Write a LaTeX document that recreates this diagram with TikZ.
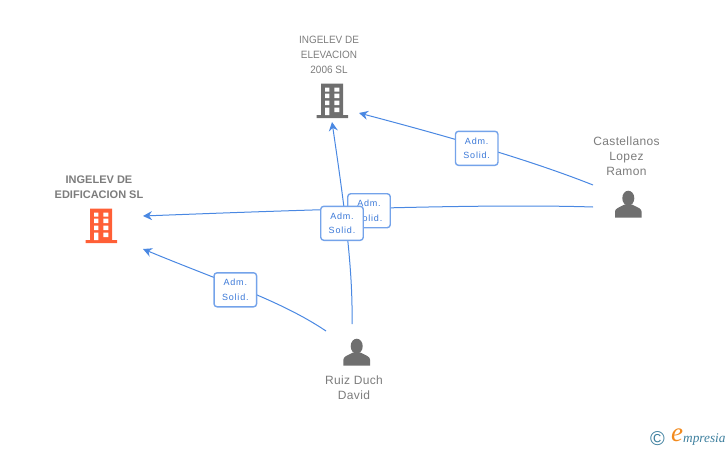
\documentclass[tikz,border=0pt]{standalone}
\usepackage{fontspec}
\setmainfont{Liberation Sans}
\newfontfamily\serifit{Liberation Serif}
\usetikzlibrary{arrows.meta}
\definecolor{linkblue}{HTML}{4A88E2}
\definecolor{boxblue}{HTML}{74A3EA}
\definecolor{boxtext}{HTML}{3A78D8}
\definecolor{icongrey}{HTML}{6F6F6F}
\definecolor{labelgrey}{HTML}{7C7C7C}
\definecolor{iconorange}{HTML}{FF5F36}
\definecolor{logoteal}{HTML}{3D7F9E}
\definecolor{logoorange}{HTML}{F28A1E}
\tikzset{
  x=1pt,y=-1pt,
  link/.style={draw=linkblue,line width=1pt,-{Stealth[length=9pt,width=9pt,inset=3pt]}},
  badge/.style={draw=boxblue,line width=1.4pt,fill=white,rounded corners=3pt,inner sep=0pt,
    minimum width=42.5pt,minimum height=34pt,align=center,text=boxtext,
    font=\fontsize{9}{14.5}\selectfont\addfontfeature{LetterSpace=9}},
  caption/.style={text=labelgrey,align=center,inner sep=0pt,
    font=\fontsize{10.6}{15}\selectfont\addfontfeature{FakeStretch=0.94}},
  capperson/.style={text=labelgrey,align=center,inner sep=0pt,
    font=\fontsize{12}{15}\selectfont\addfontfeature{LetterSpace=3}},
  capbold/.style={text=labelgrey,align=center,inner sep=0pt,font=\fontsize{11}{15}\selectfont\bfseries},
  pics/building/.style={code={
    \fill[#1] (-8,-31.5) rectangle (14,0) (-12.5,0) rectangle (19,3);
    \fill[white]
      (-4,-27.5) rectangle (0.3,-23.5) (5.3,-27.5) rectangle (10.3,-23.5)
      (-4,-21.5) rectangle (0.3,-17) (5.3,-21.5) rectangle (10.3,-17)
      (-4,-14.5) rectangle (0.3,-10) (5.3,-14.5) rectangle (10.3,-10)
      (-4,-7.5) rectangle (0.3,0) (5.3,-7.5) rectangle (10.3,-3);
  }},
  pics/personicon/.style={code={
    \fill[icongrey] (0,-19.5) ellipse (6pt and 7.5pt);
    \fill[icongrey] (-13.3,0) -- (-13.3,-6) .. controls (-13.3,-9) and (-10,-10) .. (-4,-13)
      -- (4,-13) .. controls (10,-10) and (13.3,-9) .. (13.3,-6) -- (13.3,0) -- cycle;
  }}
}
\begin{document}
\begin{tikzpicture}
\useasboundingbox (0,0) rectangle (728,450);
% icons
\pic at (329,115) {building=icongrey};
\pic at (98,240) {building=iconorange};
\pic at (628.3,217.7) {personicon};
\pic at (356.7,365.7) {personicon};
% captions
\node[caption] (elev) at (329,55) {INGELEV DE\\ELEVACION\\2006 SL};
\node[capbold] (edif) at (99,187) {INGELEV DE\\EDIFICACION SL};
\node[capperson] (cast) at (626.5,156.5) {Castellanos\\Lopez\\Ramon};
\node[capperson] (ruiz) at (354,387.5) {Ruiz Duch\\David};
% connector ends
\coordinate (elevE) at (359,113);
\coordinate (elevS) at (332,122);
\coordinate (edifE) at (143,216);
\coordinate (edifS) at (143,249);
\coordinate (castA) at (593,185);
\coordinate (castB) at (593,207);
\coordinate (ruizA) at (352,324);
\coordinate (ruizB) at (326,331);
% connectors
\draw[link] (castA) .. controls (530,160) and (450,137) .. (elevE);
\draw[link] (castB) .. controls (500,204) and (350,208) .. (edifE);
\draw[link] (ruizA) .. controls (353,270) and (345,210) .. (elevS);
\draw[link] (ruizB) .. controls (280,300) and (220,281) .. (edifS);
% badges
\node[badge] (b1) at (476.7,148.3) {Adm.\\Solid.};
\node[badge] (b2) at (369,210.7) {Adm.\\Solid.};
\node[badge] (b3) at (342,223.3) {Adm.\\Solid.};
\node[badge] (b4) at (235.3,289.8) {Adm.\\Solid.};
% logo
\node[text=logoteal,inner sep=0pt,font=\fontsize{20}{20}\selectfont] (copy) at (657.5,438.5) {©};
\node[text=logoorange,inner sep=0pt,font=\fontsize{27}{27}\selectfont\serifit\itshape] (loge) at (677,435) {e};
\node[text=logoteal,inner sep=0pt,anchor=west,font=\fontsize{13.3}{13.3}\selectfont\serifit\itshape] (logt) at (683,439.5) {mpresia};
\end{tikzpicture}
\end{document}
